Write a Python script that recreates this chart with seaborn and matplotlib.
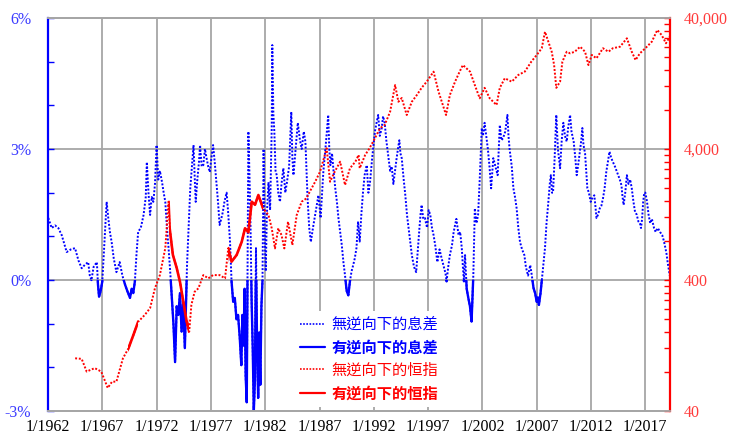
import matplotlib
matplotlib.use("Agg")
import matplotlib.pyplot as plt
import matplotlib.transforms as mtransforms
from matplotlib.path import Path
from matplotlib.lines import Line2D
from matplotlib.ticker import FixedLocator, FuncFormatter, NullFormatter
from matplotlib.font_manager import FontProperties
import pandas as pd
import seaborn as sns

# ---------------- data ----------------
spread_t = [
    1962.03, 1962.34, 1962.65, 1962.95, 1963.26, 1963.72, 1964.1, 1964.49, 1964.8, 1965.1,
    1965.4, 1965.7, 1965.85, 1966.0, 1966.2, 1966.5, 1966.6, 1966.7, 1966.85, 1967.0,
    1967.2, 1967.4, 1967.55, 1967.7, 1967.86, 1968.05, 1968.3, 1968.6, 1968.85, 1969.1,
    1969.3, 1969.55, 1969.7, 1969.85, 1970.0, 1970.15, 1970.3, 1970.55, 1970.8, 1971.0,
    1971.1, 1971.25, 1971.4, 1971.55, 1971.7, 1971.85, 1972.0, 1972.15, 1972.3, 1972.5,
    1972.65, 1972.8, 1972.95, 1973.1, 1973.25, 1973.4, 1973.55, 1973.7, 1973.85, 1974.0,
    1974.15, 1974.3, 1974.45, 1974.6, 1974.7, 1974.8, 1974.95, 1975.1, 1975.25, 1975.4,
    1975.5, 1975.6, 1975.75, 1975.9, 1976.0, 1976.15, 1976.3, 1976.45, 1976.6, 1976.75,
    1976.9, 1977.05, 1977.2, 1977.35, 1977.5, 1977.65, 1977.8, 1977.95, 1978.1, 1978.25,
    1978.45, 1978.6, 1978.76, 1978.9, 1979.05, 1979.2, 1979.35, 1979.5, 1979.65, 1979.8,
    1979.9, 1980.0, 1980.1, 1980.2, 1980.3, 1980.38, 1980.45, 1980.55, 1980.65, 1980.75,
    1980.85, 1980.95, 1981.05, 1981.15, 1981.25, 1981.35, 1981.45, 1981.55, 1981.65, 1981.75,
    1981.85, 1981.95, 1982.05, 1982.15, 1982.3, 1982.45, 1982.6, 1982.65, 1982.75, 1982.84,
    1982.95, 1983.06, 1983.2, 1983.36, 1983.5, 1983.67, 1983.85, 1984.0, 1984.2, 1984.4,
    1984.5, 1984.6, 1984.8, 1985.0, 1985.2, 1985.36, 1985.55, 1985.7, 1985.8, 1985.9,
    1986.05, 1986.2, 1986.4, 1986.6, 1986.75, 1986.9, 1987.1, 1987.35, 1987.6, 1987.8,
    1987.9, 1988.0, 1988.15, 1988.3, 1988.45, 1988.6, 1988.75, 1988.9, 1989.05, 1989.2,
    1989.35, 1989.5, 1989.65, 1989.8, 1989.95, 1990.1, 1990.25, 1990.4, 1990.55, 1990.7,
    1990.85, 1991.0, 1991.15, 1991.35, 1991.5, 1991.65, 1991.85, 1992.1, 1992.25, 1992.4,
    1992.55, 1992.73, 1992.85, 1993.0, 1993.15, 1993.3, 1993.5, 1993.65, 1993.8, 1993.95,
    1994.1, 1994.25, 1994.35, 1994.45, 1994.57, 1994.75, 1994.9, 1995.05, 1995.2, 1995.35,
    1995.5, 1995.7, 1995.9, 1996.05, 1996.2, 1996.3, 1996.4, 1996.55, 1996.7, 1996.9,
    1997.05, 1997.2, 1997.35, 1997.5, 1997.65, 1997.85, 1998.05, 1998.25, 1998.45, 1998.6,
    1998.7, 1998.85, 1999.0, 1999.2, 1999.35, 1999.48, 1999.6, 1999.8, 1999.95, 2000.1,
    2000.2, 2000.3, 2000.4, 2000.55, 2000.7, 2000.85, 2001.0, 2001.1, 2001.16, 2001.3,
    2001.45, 2001.6, 2001.75, 2001.94, 2002.05, 2002.2, 2002.35, 2002.5, 2002.65, 2002.8,
    2003.0, 2003.2, 2003.4, 2003.6, 2003.75, 2003.9, 2004.1, 2004.3, 2004.4, 2004.5,
    2004.7, 2004.85, 2005.0, 2005.15, 2005.3, 2005.46, 2005.65, 2005.86, 2006.0, 2006.2,
    2006.4, 2006.55, 2006.7, 2006.85, 2007.0, 2007.1, 2007.2, 2007.35, 2007.46, 2007.6,
    2007.76, 2007.9, 2008.07, 2008.2, 2008.3, 2008.4, 2008.5, 2008.65, 2008.8, 2008.95,
    2009.15, 2009.3, 2009.45, 2009.6, 2009.76, 2009.9, 2010.07, 2010.2, 2010.4, 2010.55,
    2010.68, 2010.85, 2011.0, 2011.1, 2011.2, 2011.3, 2011.45, 2011.55, 2011.66, 2011.8,
    2011.97, 2012.15, 2012.3, 2012.4, 2012.5, 2012.65, 2012.8, 2012.95, 2013.1, 2013.25,
    2013.4, 2013.55, 2013.7, 2013.85, 2014.0, 2014.2, 2014.35, 2014.5, 2014.65, 2014.8,
    2014.9, 2015.0, 2015.15, 2015.3, 2015.45, 2015.6, 2015.75, 2015.9, 2016.05, 2016.2,
    2016.36, 2016.5, 2016.6, 2016.7, 2016.8, 2016.9, 2017.0, 2017.15, 2017.3, 2017.45,
    2017.6, 2017.8, 2017.95, 2018.15, 2018.35, 2018.55, 2018.7, 2018.85, 2018.95, 2019.05,
    2019.15, 2019.25,
]
spread_pct = [
    1.42, 1.19, 1.25, 1.19, 1.03, 0.64, 0.70, 0.73, 0.45, 0.27,
    0.35, 0.41, 0.10, 0.00, 0.30, 0.41, -0.10, -0.38, -0.25, -0.03,
    0.90, 1.79, 1.42, 1.10, 0.87, 0.50, 0.18, 0.41, 0.10, -0.11,
    -0.25, -0.41, -0.20, -0.30, -0.03, 0.60, 1.10, 1.20, 1.49, 1.90,
    2.70, 2.00, 1.49, 1.90, 1.79, 2.20, 3.09, 2.30, 2.50, 2.24,
    2.00, 1.79, 1.20, 0.73, 0.20, -0.41, -1.00, -1.88, -0.60, -0.80,
    -0.30, -1.18, -0.50, -1.56, -0.60, 0.34, 1.20, 2.10, 2.60, 3.09,
    2.40, 1.79, 2.30, 2.70, 3.09, 2.60, 2.63, 3.00, 2.79, 2.60,
    2.47, 2.80, 3.09, 2.70, 2.24, 1.80, 1.26, 1.40, 1.56, 1.80,
    2.00, 1.50, 0.87, -0.03, -0.50, -0.41, -0.90, -0.80, -1.30, -1.95,
    -0.80, -1.50, -0.20, -2.20, -2.80, 0.30, 3.40, 2.40, 1.19, -0.50,
    -1.56, -3.00, -2.30, 0.73, -1.50, -2.70, -1.20, -2.40, -0.60, 0.00,
    3.00, 1.00, 0.20, 1.50, 2.24, 1.60, 3.50, 5.38, 3.80, 3.40,
    2.50, 2.40, 2.00, 1.79, 2.20, 2.56, 2.00, 2.24, 2.60, 3.85,
    2.80, 2.40, 3.00, 3.60, 3.20, 3.00, 3.40, 3.17, 2.50, 1.87,
    1.20, 0.87, 1.20, 1.49, 1.70, 1.94, 1.42, 2.47, 3.17, 3.78,
    3.00, 2.63, 2.90, 2.47, 2.10, 1.79, 1.40, 1.10, 0.80, 0.41,
    0.10, -0.25, -0.35, -0.03, 0.20, 0.34, 0.50, 0.73, 1.34, 0.88,
    1.50, 2.00, 2.40, 2.63, 2.00, 2.24, 2.80, 3.40, 3.60, 3.78,
    3.30, 3.48, 3.75, 3.60, 3.20, 2.90, 2.50, 2.60, 2.20, 2.50,
    2.79, 3.05, 3.20, 2.90, 2.79, 2.30, 1.94, 1.50, 1.19, 0.90,
    0.57, 0.30, 0.18, 0.70, 1.19, 1.50, 1.72, 1.40, 1.42, 1.20,
    1.60, 1.49, 1.20, 1.03, 0.80, 0.41, 0.70, 0.49, 0.30, 0.15,
    -0.03, 0.30, 0.57, 0.80, 1.10, 1.26, 1.40, 1.03, 1.10, 0.73,
    0.30, -0.03, 0.57, -0.20, -0.41, -0.60, -0.95, -0.30, 0.10, 1.64,
    1.30, 1.49, 2.30, 3.48, 3.30, 3.60, 3.30, 3.00, 2.60, 2.10,
    2.79, 2.60, 2.40, 3.55, 3.20, 3.25, 3.40, 3.78, 3.30, 3.00,
    2.60, 2.10, 1.90, 1.64, 1.20, 0.87, 0.70, 0.57, 0.30, 0.10,
    0.34, 0.10, -0.18, -0.30, -0.50, -0.40, -0.57, -0.30, -0.03, 0.30,
    0.73, 1.30, 1.79, 2.20, 2.40, 2.00, 2.00, 2.80, 3.78, 3.00,
    2.56, 3.20, 3.60, 3.30, 3.17, 3.50, 3.78, 3.40, 3.17, 2.80,
    2.40, 2.70, 3.00, 3.20, 3.48, 3.10, 2.90, 2.50, 2.10, 2.00,
    1.79, 1.90, 1.94, 1.70, 1.42, 1.50, 1.64, 1.70, 1.87, 2.10,
    2.47, 2.70, 2.94, 2.80, 2.71, 2.60, 2.50, 2.40, 2.30, 2.17,
    1.90, 1.72, 2.00, 2.40, 2.20, 2.30, 2.10, 1.80, 1.56, 1.50,
    1.34, 1.30, 1.19, 1.40, 1.79, 2.00, 2.00, 1.80, 1.49, 1.30,
    1.40, 1.19, 1.10, 1.19, 1.10, 1.03, 0.90, 0.73, 0.60, 0.41,
    0.25, 0.10,
]

hsi_t = [
    1964.5, 1965.1, 1965.56, 1966.3, 1966.9, 1967.5, 1967.9, 1968.3, 1968.9, 1969.4,
    1969.86, 1970.3, 1970.9, 1971.4, 1971.85, 1972.3, 1972.8, 1973.1, 1973.2, 1973.5,
    1973.85, 1974.15, 1974.46, 1974.77, 1975.0, 1975.2, 1975.5, 1975.85, 1976.3, 1976.76,
    1977.2, 1977.8, 1978.3, 1978.6, 1978.9, 1979.37, 1979.84, 1980.14, 1980.45, 1980.76,
    1981.06, 1981.37, 1981.8, 1982.3, 1982.6, 1982.9, 1983.2, 1983.5, 1983.76, 1984.1,
    1984.5, 1984.9, 1985.36, 1985.8, 1986.1, 1986.6, 1987.05, 1987.66, 1987.97, 1988.4,
    1988.9, 1989.35, 1989.8, 1990.3, 1990.6, 1990.7, 1991.2, 1991.6, 1992.1, 1992.57,
    1993.0, 1993.5, 1993.96, 1994.26, 1994.57, 1995.03, 1995.5, 1995.96, 1996.4, 1996.87,
    1997.5, 1997.96, 1998.65, 1999.0, 1999.48, 1999.9, 2000.2, 2000.86, 2001.3, 2001.75,
    2002.2, 2002.67, 2003.3, 2003.6, 2004.06, 2004.7, 2005.3, 2005.9, 2006.5, 2007.0,
    2007.46, 2007.76, 2008.07, 2008.38, 2008.6, 2008.8, 2009.15, 2009.36, 2009.76, 2010.07,
    2010.5, 2011.0, 2011.45, 2011.76, 2012.07, 2012.5, 2013.1, 2013.6, 2014.0, 2014.67,
    2015.3, 2015.75, 2016.1, 2016.5, 2017.0, 2017.6, 2018.1, 2018.5, 2018.9, 2019.25,
]
hsi_level = [
    101, 100, 80, 85, 80, 60, 67, 67, 101, 120,
    152, 192, 216, 244, 347, 436, 700, 1585, 997, 621,
    494, 388, 273, 192, 161, 258, 325, 346, 436, 412,
    436, 436, 412, 700, 552, 621, 784, 993, 925, 1585,
    1500, 1782, 1410, 1254, 993, 697, 993, 882, 697, 1115,
    740, 1254, 1585, 1680, 1888, 2250, 2686, 4048, 2250, 2686,
    3200, 2124, 2850, 3200, 3600, 2850, 3600, 4048, 4830, 5760,
    6100, 7700, 12300, 9180, 9800, 7270, 9180, 10330, 11720, 13060,
    15580, 10950, 7270, 10330, 13060, 15580, 17500, 15580, 12300, 9750,
    11720, 9750, 8670, 11720, 13870, 13060, 14690, 15580, 18560, 20900,
    23500, 31400, 26400, 22100, 17500, 11720, 13060, 18560, 22100, 21500,
    22100, 24150, 22100, 17500, 20900, 19690, 23500, 22100, 23500, 24150,
    27990, 22100, 19100, 21500, 23500, 26400, 32400, 29660, 25640, 28800,
]

# periods in which the index line is drawn solid (inverted curve)
hsi_inv_start = [1969.4, 1973.1, 1978.6]
hsi_inv_end = [1970.3, 1975.0, 1981.8]

x_ticks = [1962, 1967, 1972, 1977, 1982, 1987, 1992, 1997, 2002, 2007, 2012, 2017]
x_labels = ["1/1962", "1/1967", "1/1972", "1/1977", "1/1982", "1/1987",
            "1/1992", "1/1997", "1/2002", "1/2007", "1/2012", "1/2017"]
left_ticks = [-3, 0, 3, 6]
right_ticks = [40, 400, 4000, 40000]
legend_labels = ["無逆向下的息差", "有逆向下的息差", "無逆向下的恒指", "有逆向下的恒指"]

# ---------------- styling ----------------
BLUE = "#0000ff"
RED = "#ff0000"
BLUE_TXT = "#3b3bff"
RED_TXT = "#ff3b3b"
GRID = "#a6a6a6"
DOT = (0, (1, 0.9))

sns.set_theme(style="white")
plt.rcParams["font.family"] = ["Liberation Serif", "DejaVu Serif"]

fig, ax = plt.subplots(figsize=(7.3, 4.34), dpi=100)
fig.subplots_adjust(left=48 / 730, right=670 / 730, top=1 - 18 / 434, bottom=1 - 411 / 434)
ax2 = ax.twinx()
ax2.set_yscale("log")

spread_df = pd.DataFrame({"t": spread_t, "v": spread_pct})
hsi_df = pd.DataFrame({"t": hsi_t, "h": hsi_level})

# spread: dotted everywhere, solid where negative
sns.lineplot(data=spread_df, x="t", y="v", ax=ax, color=BLUE, linewidth=1.4,
             estimator=None, sort=False)
ax.lines[-1].set_linestyle(DOT)
sns.lineplot(data=spread_df, x="t", y="v", ax=ax, color=BLUE, linewidth=1.7,
             estimator=None, sort=False)
neg_line = ax.lines[-1]
btrans = mtransforms.blended_transform_factory(ax.transAxes, ax.transData)
neg_clip = Path([(0, -10), (1, -10), (1, 0), (0, 0), (0, -10)],
                [Path.MOVETO, Path.LINETO, Path.LINETO, Path.LINETO, Path.CLOSEPOLY])
neg_line.set_clip_path(neg_clip, btrans)

# index: dotted everywhere, solid inside inversion periods
sns.lineplot(data=hsi_df, x="t", y="h", ax=ax2, color=RED, linewidth=1.4,
             estimator=None, sort=False)
ax2.lines[-1].set_linestyle(DOT)
sns.lineplot(data=hsi_df, x="t", y="h", ax=ax2, color=RED, linewidth=1.9,
             estimator=None, sort=False)
inv_line = ax2.lines[-1]
rtrans = mtransforms.blended_transform_factory(ax2.transData, ax2.transAxes)
verts, codes = [], []
for s, e in zip(hsi_inv_start, hsi_inv_end):
    verts += [(s, 0), (e, 0), (e, 1), (s, 1), (s, 0)]
    codes += [Path.MOVETO, Path.LINETO, Path.LINETO, Path.LINETO, Path.CLOSEPOLY]
inv_line.set_clip_path(Path(verts, codes), rtrans)

# ---------------- axes ----------------
ax.set_xlim(1962.0, 2019.27)
ax.set_ylim(-3, 6)
ax2.set_ylim(40, 40000)
ax.set_xlabel("")
ax.set_ylabel("")
ax2.set_ylabel("")

ax.set_xticks(x_ticks)
ax.set_xticklabels(x_labels)
ax.yaxis.set_major_locator(FixedLocator(left_ticks))
ax.yaxis.set_minor_locator(FixedLocator([-2, -1, 1, 2, 4, 5]))
ax.yaxis.set_major_formatter(FuncFormatter(lambda v, p: f"{v:.0f}%"))

ax2.yaxis.set_major_locator(FixedLocator(right_ticks))
ax2.yaxis.set_minor_locator(FixedLocator([k * 10 ** n for n in (1, 2, 3)
                                          for k in (8, 12, 16, 20, 24, 28, 32, 36)]))
ax2.yaxis.set_major_formatter(FuncFormatter(lambda v, p: f"{v:,.0f}"))
ax2.yaxis.set_minor_formatter(NullFormatter())

ax.set_axisbelow(True)
ax.grid(True, which="major", color=GRID, linewidth=1.3)
ax.grid(False, which="minor")
ax2.grid(False)

ax.tick_params(axis="x", which="both", length=0, labelsize=11.5, pad=6,
               labelcolor="black", bottom=False)
ax.tick_params(axis="y", which="both", direction="in", length=4, width=1,
               color=BLUE, labelcolor=BLUE_TXT, labelsize=11.5, pad=12,
               left=True, right=False)
ax2.tick_params(axis="y", which="both", direction="in", length=4, width=1,
                color=RED, labelcolor=RED_TXT, labelsize=11.5, pad=10,
                right=True, left=False)

for a in (ax, ax2):
    a.spines["top"].set_color(GRID)
    a.spines["bottom"].set_color(GRID)
    a.spines["top"].set_linewidth(1.3)
    a.spines["bottom"].set_linewidth(1.3)
ax.spines["left"].set_color(BLUE)
ax.spines["left"].set_linewidth(1.6)
ax.spines["right"].set_visible(False)
ax2.spines["left"].set_visible(False)
ax2.spines["right"].set_color(RED)
ax2.spines["right"].set_linewidth(1.6)

# ---------------- legend ----------------
handles = [
    Line2D([], [], color=BLUE, linewidth=1.2, linestyle=DOT),
    Line2D([], [], color=BLUE, linewidth=1.6),
    Line2D([], [], color=RED, linewidth=1.2, linestyle=DOT),
    Line2D([], [], color=RED, linewidth=1.6),
]
leg = ax2.legend(handles, legend_labels, loc="upper left", bbox_to_anchor=(0.385, 0.275),
                 frameon=True, framealpha=1, facecolor="white", edgecolor="none",
                 fancybox=False, prop=FontProperties(family=["Noto Sans CJK TC"], size=11),
                 handlelength=1.6, handletextpad=0.45, labelspacing=0.42, borderpad=0.35)
for txt, col, bold in zip(leg.get_texts(), [BLUE, BLUE, RED, RED],
                          [False, True, False, True]):
    txt.set_color(col)
    if bold:
        txt.set_fontweight("bold")

fig.savefig("out.png", dpi=100)
